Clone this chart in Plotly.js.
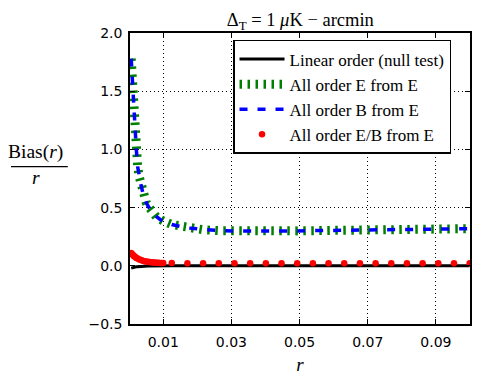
<!DOCTYPE html>
<html>
<head>
<meta charset="utf-8">
<script src="https://cdn.plot.ly/plotly-3.0.1.min.js"></script>
<style>
  html, body { margin: 0; padding: 0; background: #fff; }
  #plot_div { width: 482px; height: 388px; }
</style>
</head>
<body>
<div id="plot_div"></div>
<script>
// tensor-to-scalar ratio grid (dense at small r, then every ~0.0046)
const r = [
    0.0006, 0.0009, 0.0012, 0.0015, 0.0018, 0.0021, 0.0025, 0.003, 0.0035, 0.004,
    0.0045, 0.005, 0.0055, 0.006, 0.0065, 0.007, 0.0075, 0.008, 0.0085, 0.009,
    0.0095, 0.01,
    0.0125, 0.0171, 0.0217, 0.0263, 0.0309, 0.0355, 0.0401, 0.0447, 0.0493, 0.0539,
    0.0585, 0.0631, 0.0677, 0.0723, 0.0769, 0.0815, 0.0861, 0.0907, 0.0953, 0.0999
];
const linear_null = [
    -0.02, -0.017, -0.014, -0.012, -0.01, -0.009, -0.008, -0.006, -0.005, -0.004,
    -0.003, -0.0025, -0.002, -0.0015, -0.001, -0.001, -0.0005, 0, 0, 0,
    0, 0,
    0, 0, 0, 0, 0, 0, 0, 0, 0, 0,
    0, 0, 0, 0, 0, 0, 0, 0, 0, 0
];
const all_EE = [
    1.78, 1.6, 1.48, 1.3, 1.13, 1.0, 0.85, 0.76, 0.69, 0.63,
    0.58, 0.545, 0.515, 0.49, 0.47, 0.45, 0.435, 0.42, 0.41, 0.40,
    0.39, 0.385,
    0.355, 0.325, 0.31, 0.302, 0.298, 0.297, 0.297, 0.298, 0.300, 0.302,
    0.304, 0.306, 0.308, 0.310, 0.312, 0.313, 0.315, 0.316, 0.318, 0.319
];
const all_BE = [
    1.78, 1.6, 1.48, 1.3, 1.13, 1.0, 0.85, 0.76, 0.69, 0.63,
    0.58, 0.545, 0.515, 0.49, 0.47, 0.45, 0.435, 0.42, 0.41, 0.40,
    0.39, 0.385,
    0.355, 0.325, 0.31, 0.302, 0.298, 0.297, 0.297, 0.298, 0.300, 0.302,
    0.304, 0.306, 0.308, 0.310, 0.312, 0.313, 0.315, 0.316, 0.318, 0.319
];
const all_EBE = [
    0.11, 0.10, 0.09, 0.082, 0.075, 0.068, 0.062, 0.055, 0.049, 0.044,
    0.04, 0.037, 0.034, 0.032, 0.03, 0.029, 0.028, 0.027, 0.026, 0.025,
    0.025, 0.024,
    0.023, 0.022, 0.022, 0.022, 0.022, 0.022, 0.022, 0.022, 0.022, 0.022,
    0.022, 0.022, 0.022, 0.022, 0.022, 0.022, 0.022, 0.022, 0.022, 0.022
];
const x_ticks = [0.01, 0.03, 0.05, 0.07, 0.09];
const y_ticks = [-0.5, 0.0, 0.5, 1.0, 1.5, 2.0];

const serif = 'Liberation Serif, DejaVu Serif, serif';
const sans = 'DejaVu Sans, sans-serif';

const data = [
    {
        x: r, y: linear_null, name: 'Linear order (null test)',
        type: 'scatter', mode: 'lines',
        line: {color: 'black', width: 3}
    },
    {
        x: r, y: all_EE, name: 'All order E from E',
        type: 'scatter', mode: 'lines',
        line: {color: 'green', width: 9, dash: '2.5px,5.5px'}
    },
    {
        x: r, y: all_BE, name: 'All order B from E',
        type: 'scatter', mode: 'lines',
        line: {color: 'blue', width: 3.5, dash: '8px,10px'}
    },
    {
        x: r, y: all_EBE, name: 'All order E/B from E',
        type: 'scatter', mode: 'markers',
        marker: {color: 'red', size: 6.5, line: {width: 0}}
    }
];

const axis_common = {
    showline: true, linecolor: 'black', linewidth: 1.5, mirror: 'allticks',
    ticks: 'inside', ticklen: 5, tickwidth: 1, tickcolor: 'black',
    showgrid: true, gridcolor: 'black', gridwidth: 1, griddash: '1px,3px',
    zeroline: false,
    tickfont: {family: sans, size: 14, color: 'black'}
};

const layout = {
    width: 482, height: 388,
    margin: {l: 130, r: 12, t: 33, b: 64},
    paper_bgcolor: 'white', plot_bgcolor: 'white',
    title: {
        text: 'Δ<sub>T</sub> = 1 <i>μ</i>K − arcmin',
        font: {family: serif, size: 18.5, color: 'black'},
        x: 0.623, xanchor: 'center', y: 0.95, yanchor: 'middle'
    },
    xaxis: Object.assign({}, axis_common, {
        range: [0.00025, 0.1],
        tickvals: x_ticks, ticktext: x_ticks.map(v => v.toFixed(2)),
        ticklabelstandoff: 4,
        title: {text: '<i>r</i>', font: {family: serif, size: 19, color: 'black'}, standoff: 9}
    }),
    yaxis: Object.assign({}, axis_common, {
        range: [-0.5, 2.0],
        tickvals: y_ticks, ticktext: y_ticks.map(v => v.toFixed(1).replace('-', '\u2212')),
        ticklabelstandoff: 3
    }),
    showlegend: true,
    legend: {
        x: 0.303, xanchor: 'left', y: 0.976, yanchor: 'top',
        bgcolor: 'white', bordercolor: 'black', borderwidth: 1.5,
        font: {family: serif, size: 17, color: 'black'},
        itemwidth: 45, tracegroupgap: 0
    },
    annotations: [
        {
            xref: 'paper', yref: 'paper', x: -0.277, y: 0.59, xanchor: 'center', yanchor: 'middle',
            text: 'Bias(<i>r</i>)', showarrow: false,
            font: {family: serif, size: 19.5, color: 'black'}
        },
        {
            xref: 'paper', yref: 'paper', x: -0.277, y: 0.505, xanchor: 'center', yanchor: 'middle',
            text: '<i>r</i>', showarrow: false,
            font: {family: serif, size: 19.5, color: 'black'}
        }
    ],
    shapes: [
        {
            type: 'line', xref: 'paper', yref: 'paper',
            x0: -0.35, x1: -0.183, y0: 0.541, y1: 0.541,
            line: {color: 'black', width: 1.2}
        }
    ]
};

const config = {displayModeBar: false, responsive: false};

Plotly.newPlot(document.querySelector('#plot_div'), data, layout, config);
</script>
</body>
</html>
